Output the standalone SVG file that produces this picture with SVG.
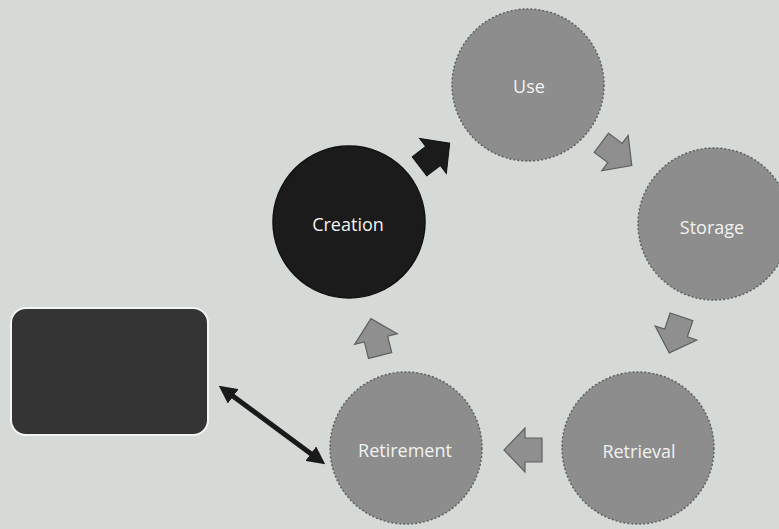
<svg xmlns="http://www.w3.org/2000/svg" width="779" height="529" viewBox="0 0 779 529">
<defs>
<style>
.bg{fill:#d6dad7}
.step{fill:#8c8d8c;stroke:#5e5f5e;stroke-width:1.5;stroke-dasharray:2 2}
.dark{fill:#1b1b1b;stroke:#0f0f0f;stroke-width:1.5}
.lbl{font-family:"Open Sans","Liberation Sans",sans-serif;font-size:18px;fill:#f2f2f2;text-anchor:middle;dominant-baseline:central}
.arr{fill:#8e8f8e;stroke:#5f605f;stroke-width:1.2}
.arrd{fill:#1b1b1b;stroke:#111;stroke-width:1}
.box{fill:#343434;stroke:#f4f4f4;stroke-width:2}
.link{stroke:#1a1a1a;stroke-width:5;fill:none}
</style>
<path id="blk" d="M-17,-12 L0,-12 L0,-22 L21,0 L0,22 L0,12 L-17,12 Z"/>
<marker id="ah" viewBox="0 0 10 10" refX="5" refY="5" markerWidth="3.6" markerHeight="3.6" orient="auto-start-reverse" markerUnits="strokeWidth">
<path d="M0,0 L10,5 L0,10 Z" fill="#1a1a1a"/>
</marker>
</defs>
<rect class="bg" x="0" y="0" width="779" height="529"/>
<g id="connectors">
<use href="#blk" class="arrd" transform="translate(433,156) rotate(-37.4)"/>
<use href="#blk" class="arr" transform="translate(615,153) rotate(36.8)"/>
<use href="#blk" class="arr" transform="translate(676,333) rotate(108.7)"/>
<use href="#blk" class="arr" transform="translate(525,450) rotate(180)"/>
<use href="#blk" class="arr" transform="translate(376,339) rotate(-104)"/>
<line class="link" x1="226" y1="391" x2="318" y2="459" marker-start="url(#ah)" marker-end="url(#ah)"/>
</g>
<g id="node-use">
<circle class="step" cx="528" cy="85" r="76"/>
<text class="lbl" x="529" y="86">Use</text>
</g>
<g id="node-creation">
<circle class="dark" cx="349" cy="222" r="76"/>
<text class="lbl" x="348" y="224">Creation</text>
</g>
<g id="node-storage">
<circle class="step" cx="714" cy="224" r="76"/>
<text class="lbl" x="712" y="227">Storage</text>
</g>
<g id="node-retrieval">
<circle class="step" cx="638" cy="448" r="76"/>
<text class="lbl" x="639" y="451">Retrieval</text>
</g>
<g id="node-retirement">
<circle class="step" cx="406" cy="448" r="76"/>
<text class="lbl" x="405" y="450">Retirement</text>
</g>
<g id="node-box">
<rect class="box" x="11" y="308" width="197" height="127" rx="15" ry="15"/>
</g>
</svg>
